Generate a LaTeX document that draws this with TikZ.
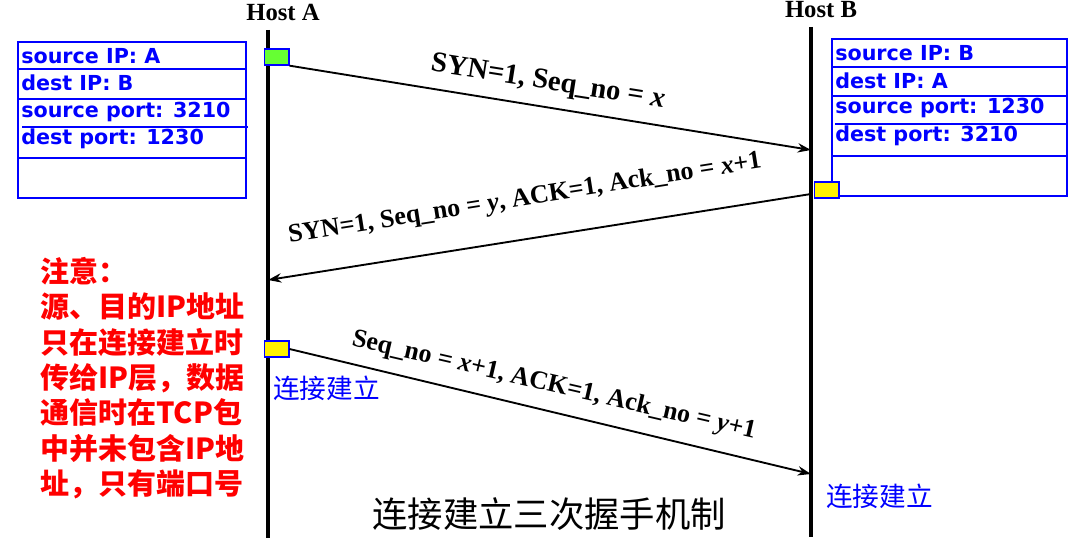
\documentclass[tikz,border=0pt]{standalone}
\usepackage{fontspec}
\setmainfont{Liberation Serif}
\newfontfamily\cjk{Noto Sans CJK SC}
\newfontfamily\boxfont{DejaVu Sans}
\usetikzlibrary{arrows.meta}
\definecolor{segGreen}{RGB}{102,255,51}

\begin{document}
\begin{tikzpicture}[x=0.75pt, y=-0.75pt,
  hostline/.style={line width=3pt},
  hostlabel/.style={font=\bfseries\fontsize{18.5}{18.5}\selectfont},
  seg/.style={draw=blue, line width=1pt, minimum width=18.5pt, minimum height=12pt, inner sep=0pt},
  msg/.style={line width=1.4pt, -{Stealth[length=10pt, width=7pt]}},
  msglabel/.style={font=\bfseries\fontsize{19.5}{19.5}\selectfont, inner sep=0pt},
  boxline/.style={blue, line width=1.5pt},
  boxtext/.style={font=\boxfont\bfseries\fontsize{15.5}{15.5}\selectfont, text=blue, anchor=west, inner sep=0pt},
  estab/.style={font=\cjk\fontsize{20}{20}\selectfont, text=blue, anchor=west, inner sep=0pt}]
  \useasboundingbox (0,0) rectangle (1069,556);

  % hosts and time lines
  \node[hostlabel] (hostA) at (283,12) {Host A};
  \node[hostlabel] (hostB) at (821,10) {Host B};
  \coordinate (aTop) at (268,30);
  \coordinate (aBot) at (268,538);
  \coordinate (bTop) at (811,27);
  \coordinate (bBot) at (811,537);
  \draw[hostline] (aTop) -- (aBot);
  \draw[hostline] (bTop) -- (bBot);

  % socket table of host A
  \draw[boxline] (18,42) rectangle (246,198);
  \draw[boxline] (18,69) -- (246,69);
  \draw[boxline] (18,99) -- (246,99);
  \draw[boxline] (22,127) -- (248,127);
  \draw[boxline] (18,158) -- (246,158);
  \node[boxtext] (aSrcIP) at (21,56) {source IP: A};
  \node[boxtext] (aDstIP) at (21,83) {dest IP: B};
  \node[boxtext] (aSrcPort) at (21,112) {source port: 3210};
  \node[boxtext] (aDstPort) at (21,139) {dest port: 1230};

  % socket table of host B
  \draw[boxline] (832,39) rectangle (1067,196);
  \draw[boxline] (832,67) -- (1067,67);
  \draw[boxline] (832,96) -- (1067,96);
  \draw[boxline] (835,124) -- (1068,124);
  \draw[boxline] (832,156) -- (1067,156);
  \node[boxtext] (bSrcIP) at (835,53) {source IP: B};
  \node[boxtext] (bDstIP) at (835,81) {dest IP: A};
  \node[boxtext] (bSrcPort) at (835,108) {source port: 1230};
  \node[boxtext] (bDstPort) at (835,136) {dest port: 3210};

  % segments
  \node[seg, fill=segGreen] (synA) at (276.5,57) {};
  \node[seg, fill=yellow] (synackB) at (826.5,190) {};
  \node[seg, fill=yellow] (ackA) at (276.5,349) {};
  \coordinate (synB) at (811,150);
  \coordinate (synackStart) at (811,194);
  \coordinate (synackA) at (268,280);
  \coordinate (ackB) at (811,474);
  \draw[msg] (synA.south east) -- (synB);
  \draw[msg] (synackStart) -- (synackA);
  \draw[msg] (ackA.east) -- (ackB);
  \node[msglabel, font=\bfseries\fontsize{21.5}{21.5}\selectfont, rotate=-9] (synLabel) at (548,83) {SYN=1, Seq\_no = \textit{x}};
  \node[msglabel, rotate=9] (synackLabel) at (525,199) {SYN=1, Seq\_no = \textit{y}, ACK=1, Ack\_no = \textit{x}+1};
  \node[msglabel, rotate=-13] (ackLabel) at (554,386) {Seq\_no = \textit{x}+1, ACK=1, Ack\_no = \textit{y}+1};

  % notes
  \node[estab] (estabA) at (273,388) {连接建立};
  \node[estab] (estabB) at (826,496) {连接建立};
  \node[font=\cjk\bfseries\fontsize{21.75}{26.5}\selectfont, text=red, anchor=north west, align=left, inner sep=0pt] (note) at (40,257)
    {注意：\\源、目的IP地址\\只在连接建立时\\传给IP层，数据\\通信时在TCP包\\中并未包含IP地\\址，只有端口号};
  \node[font=\cjk\fontsize{26.5}{26.5}\selectfont] (title) at (549,514) {连接建立三次握手机制};
\end{tikzpicture}
\end{document}
